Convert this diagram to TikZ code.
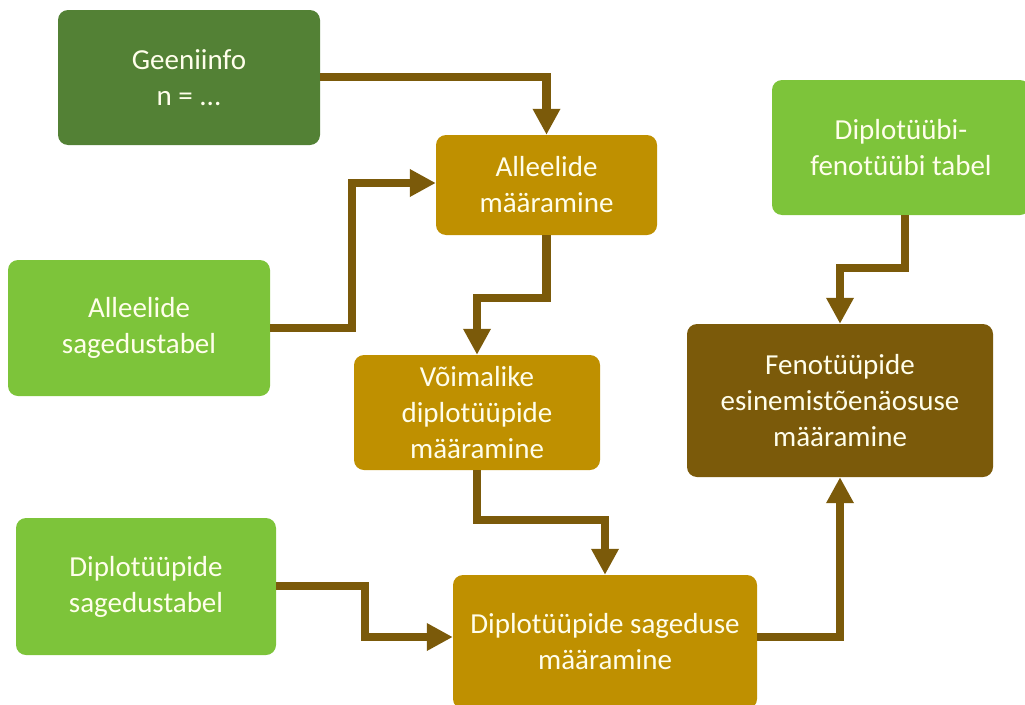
\documentclass[tikz,border=0pt]{standalone}
\usepackage{fontspec}
\setmainfont{Carlito}
\usetikzlibrary{arrows.meta}
\definecolor{DarkLeaf}{HTML}{538135}
\definecolor{LightLeaf}{HTML}{7DC43A}
\definecolor{Ochre}{HTML}{BF9000}
\definecolor{Umber}{HTML}{7B5A0A}

\tikzset{
  box/.style={rounded corners=10pt, text=white!92!yellow, align=center,
              font=\fontsize{29}{36}\selectfont, inner sep=0pt},
  flow/.style={draw=Umber, line width=8.5pt,
               -{Triangle[width=26pt,length=26pt]}}
}

\begin{document}
\begin{tikzpicture}[x=1pt,y=-1pt]
  \useasboundingbox (0,0) rectangle (1025,704);
  % input boxes
  \node[box, fill=DarkLeaf, minimum width=262pt, minimum height=135pt] (geen) at (189,77.5) {Geeniinfo\\n = ...};
  \node[box, fill=LightLeaf, minimum width=262pt, minimum height=136pt] (alsag) at (139,328) {Alleelide\\sagedustabel};
  \node[box, fill=LightLeaf, minimum width=260pt, minimum height=137pt] (dipsag) at (146,586.5) {Diplotüüpide\\sagedustabel};
  \node[box, fill=LightLeaf, minimum width=258pt, minimum height=135pt] (tabel) at (901,147.5) {Diplotüübi-\\fenotüübi tabel};
  % steps
  \node[box, fill=Ochre, minimum width=221pt, minimum height=100pt] (almaar) at (546.5,185) {Alleelide\\määramine};
  \node[box, fill=Ochre, minimum width=246pt, minimum height=115pt] (voim) at (477,412.5) {Võimalike\\diplotüüpide\\määramine};
  \node[box, fill=Ochre, minimum width=304pt, minimum height=134pt] (dipmaar) at (605,642) {Diplotüüpide sageduse\\määramine};
  \node[box, fill=Umber, minimum width=306pt, minimum height=153pt] (feno) at (840,400.5) {Fenotüüpide\\esinemistõenäosuse\\määramine};

  % connectors
  \draw[flow] (geen.east |- 0,77) -| (almaar.north);
  \draw[flow] (alsag.east |- 0,328) -- (352,328) |- (almaar.west |- 0,183);
  \draw[flow] (almaar.south) -- (546.5,298) -| (voim.north);
  \draw[flow] (voim.south) -- (477,520) -| (dipmaar.north);
  \draw[flow] (dipsag.east |- 0,586) -- (365,586) |- (dipmaar.west |- 0,637);
  \draw[flow] (dipmaar.east |- 0,637) -| (feno.south);
  \draw[flow] (tabel.south -| 905,0) -- (905,268) -| (feno.north);
\end{tikzpicture}
\end{document}
